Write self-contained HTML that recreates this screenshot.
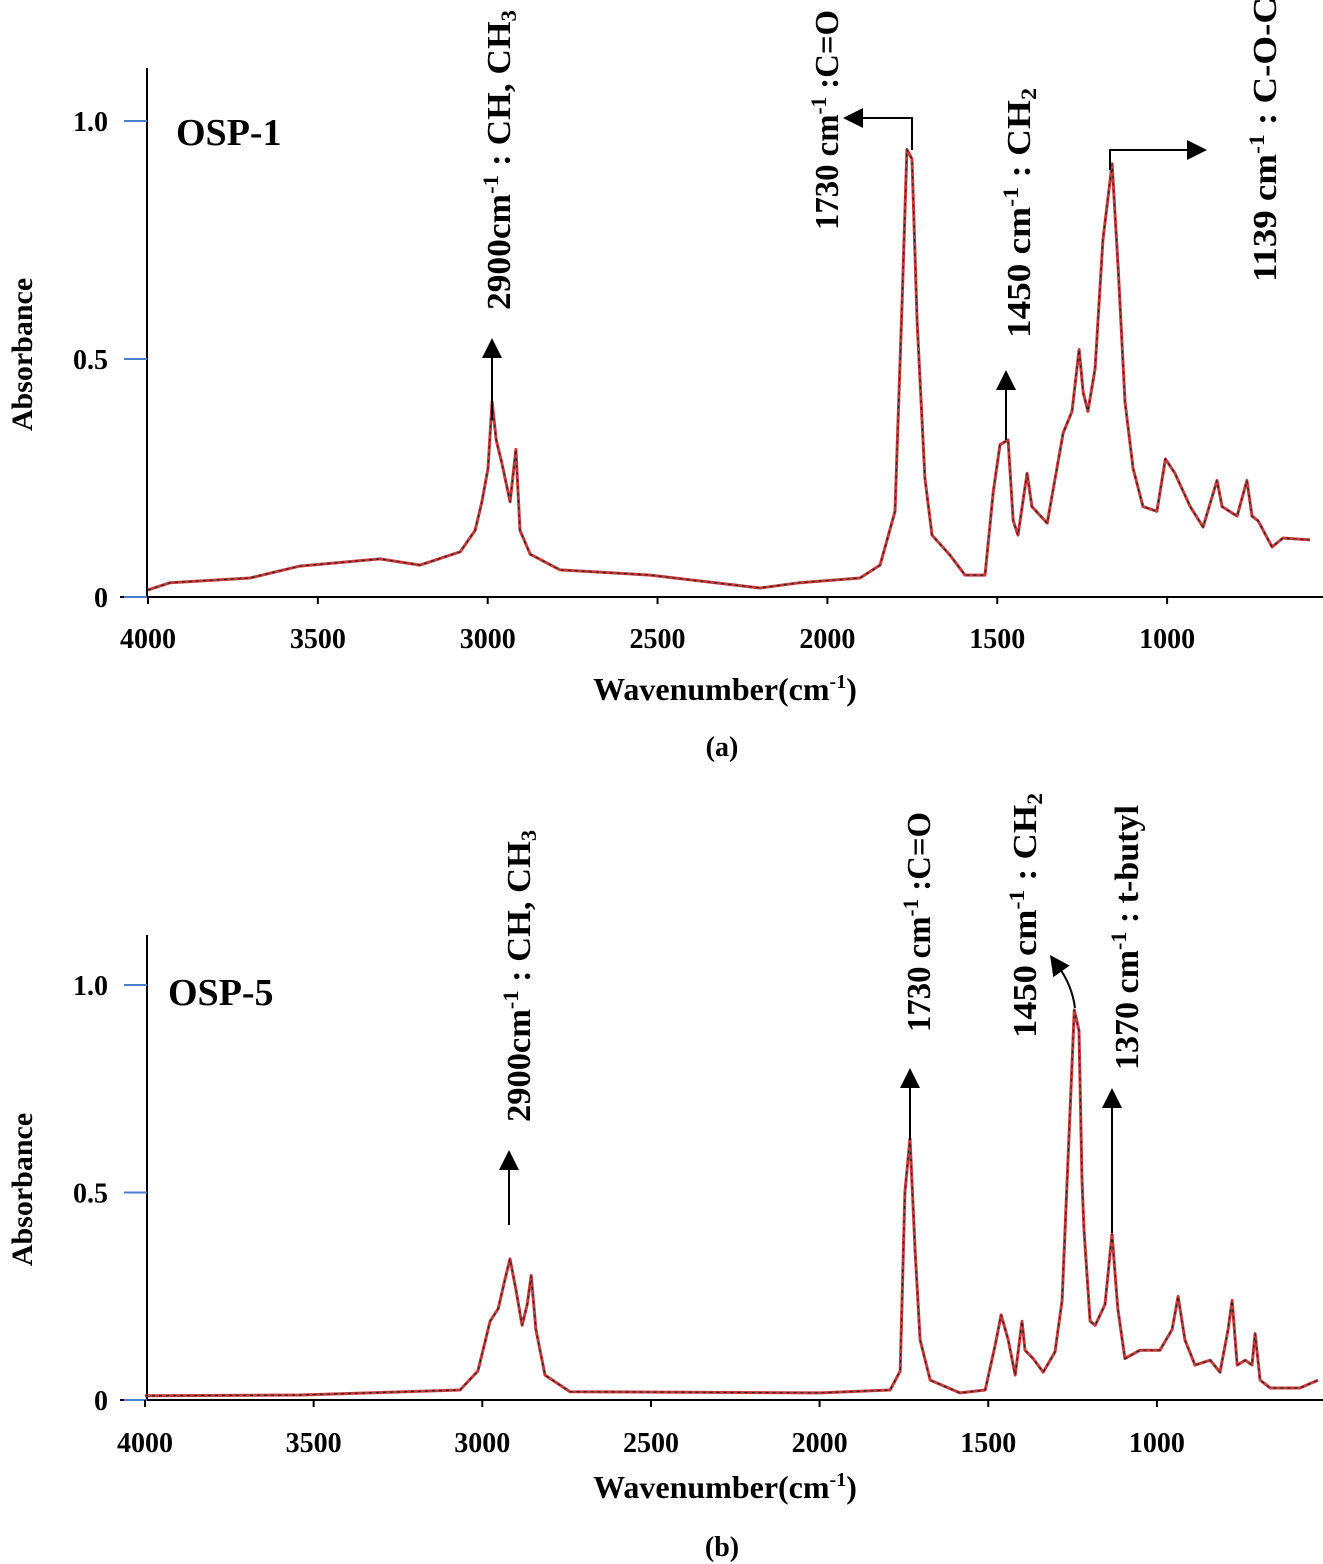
<!DOCTYPE html>
<html><head><meta charset="utf-8"><style>
html,body{margin:0;padding:0;background:#fff}
svg{display:block;font-family:"Liberation Serif",serif}
</style></head><body>
<svg id="chart" width="1323" height="1564" viewBox="0 0 1323 1564"></svg>
<script>
const wnA=[4000,3935,3700,3553,3317,3199,3081,3037,3017,2999,2987,2975,2958,2934,2917,2905,2875,2787,2522,2198,2081,1904,1845,1801,1780,1766,1751,1736,1713,1692,1639,1595,1536,1512,1492,1468,1453,1439,1412,1398,1353,1306,1280,1259,1247,1233,1212,1189,1162,1144,1124,1100,1071,1030,1005,977,932,894,853,838,794,765,750,732,691,659,580];
const absA=[0.015,0.03,0.04,0.065,0.08,0.067,0.095,0.14,0.20,0.27,0.41,0.33,0.28,0.20,0.31,0.14,0.09,0.057,0.046,0.019,0.03,0.04,0.067,0.18,0.62,0.94,0.92,0.58,0.25,0.13,0.088,0.046,0.046,0.22,0.32,0.33,0.16,0.13,0.26,0.19,0.155,0.345,0.39,0.52,0.43,0.39,0.48,0.75,0.91,0.69,0.41,0.27,0.19,0.18,0.29,0.26,0.19,0.147,0.245,0.19,0.17,0.245,0.17,0.16,0.105,0.124,0.12];
const wnB=[4000,3540,3066,3013,2977,2953,2933,2918,2900,2882,2867,2855,2841,2814,2740,1999,1791,1761,1747,1732,1717,1702,1672,1584,1509,1480,1462,1441,1420,1400,1391,1367,1337,1302,1281,1263,1245,1231,1222,1216,1198,1183,1154,1133,1116,1095,1050,991,955,937,917,887,842,813,789,777,762,738,718,709,694,664,576,522];
const absB=[0.01,0.012,0.024,0.07,0.19,0.22,0.29,0.34,0.265,0.18,0.23,0.30,0.17,0.06,0.02,0.017,0.024,0.07,0.50,0.63,0.36,0.145,0.048,0.017,0.024,0.13,0.205,0.145,0.06,0.19,0.12,0.10,0.067,0.116,0.24,0.59,0.94,0.89,0.53,0.41,0.19,0.18,0.23,0.40,0.22,0.10,0.12,0.12,0.17,0.25,0.145,0.084,0.096,0.067,0.17,0.24,0.084,0.096,0.084,0.16,0.048,0.029,0.029,0.048];
const xTicks=[4000,3500,3000,2500,2000,1500,1000];
const yTicks=[0,0.5,1.0];
const yTickLabels=["0","0.5","1.0"];

const NS="http://www.w3.org/2000/svg";
const svg=document.getElementById('chart');
function mk(tag,attrs,parent,text){const e=document.createElementNS(NS,tag);for(const k in attrs)e.setAttribute(k,attrs[k]);if(text!==undefined)e.textContent=text;(parent||svg).appendChild(e);return e;}

const panels=[
 {id:'a',wn:wnA,ab:absA,x0:148,k:0.3397,y0:597,ky:476,axTop:68,axRight:1323,name:'OSP-1',nameX:176,nameY:145,xlblY:648,titleY:700,capY:756,capText:'(a)'},
 {id:'b',wn:wnB,ab:absB,x0:145,k:0.3373,y0:1400,ky:415,axTop:935,axRight:1323,name:'OSP-5',nameX:168,nameY:1005,xlblY:1452,titleY:1498,capY:1556,capText:'(b)'}
];
panels.forEach(p=>{
  p.sx=w=>p.x0+(4000-w)*p.k;
  p.sy=a=>p.y0-a*p.ky;
  const g=mk('g',{});
  
  
  const ya=mk('line',{x1:147,y1:p.axTop,x2:147,y2:p.y0,stroke:'#000','stroke-width':2},g);
  
  const xa=mk('line',{x1:120,y1:p.y0,x2:p.axRight,y2:p.y0,stroke:'#000','stroke-width':2},g);
  
  yTicks.forEach((t,i)=>{
    const y=p.sy(t);
    const tk=mk('line',{x1:124,y1:y,x2:147,y2:y,stroke:'#4a7fd0','stroke-width':2},g);
    
    const tl=mk('text',{x:108,y:y+10,'text-anchor':'end','font-size':28,'font-weight':'bold'},g,yTickLabels[i]);
    
  });
  xTicks.forEach(t=>{
    const x=p.sx(t);
    const tk=mk('line',{x1:x,y1:p.y0,x2:x,y2:p.y0+7,stroke:'#000','stroke-width':2},g);
    
    const tl=mk('text',{x:x,y:p.xlblY,'text-anchor':'middle','font-size':28,'font-weight':'bold'},g,String(t));
    
  });
  const pts=p.wn.map((w,i)=>p.sx(w).toFixed(1)+','+p.sy(p.ab[i]).toFixed(1)).join(' ');
  const l1=mk('polyline',{points:pts,fill:'none',stroke:'#c83a3a','stroke-width':3,'stroke-linejoin':'round'},g);
  
  const l2=mk('polyline',{points:pts,fill:'none',stroke:'#222','stroke-width':1.2,'stroke-dasharray':'3 4'},g);
  
  const nm=mk('text',{x:p.nameX,y:p.nameY,'font-size':38,'font-weight':'bold'},g,p.name);
  
  const yt=mk('text',{x:0,y:0,transform:'translate(32,'+((p.axTop+p.y0)/2+22)+') rotate(-90)','text-anchor':'middle','font-size':30,'font-weight':'bold'},g,'Absorbance');
  
  const xt=mk('text',{x:725,y:p.titleY,'text-anchor':'middle','font-size':32,'font-weight':'bold'},g);
  xt.innerHTML='Wavenumber(cm<tspan dy="-12" font-size="20">-1</tspan><tspan dy="12">)</tspan>';
  
  const cp=mk('text',{x:722,y:p.capY,'text-anchor':'middle','font-size':28,'font-weight':'bold'},g,p.capText);
  
});

function vlabel(x,yb,len,html,name){
  const t=mk('text',{transform:'translate('+x+','+yb+') rotate(-90)','font-size':34,'font-weight':'bold',textLength:len,lengthAdjust:'spacingAndGlyphs'});
  t.innerHTML=html;
  
  
}
const sup='<tspan dy="-12" font-size="22">-1</tspan><tspan dy="12">';
vlabel(510,310,300,'2900cm'+sup+' : CH, CH</tspan><tspan dy="6" font-size="22">3</tspan>','peak-label-2900-a');
vlabel(838,230,220,'1730 cm'+sup+' :C=O</tspan>','peak-label-1730-a');
vlabel(1030,338,250,'1450 cm'+sup+' : CH</tspan><tspan dy="6" font-size="22">2</tspan>','peak-label-1450-a');
vlabel(1276,282,285,'1139 cm'+sup+' : C-O-C</tspan>','peak-label-1139-a');
vlabel(530,1122,292,'2900cm'+sup+' : CH, CH</tspan><tspan dy="6" font-size="22">3</tspan>','peak-label-2900-b');
vlabel(930,1032,220,'1730 cm'+sup+' :C=O</tspan>','peak-label-1730-b');
vlabel(1036,1038,245,'1450 cm'+sup+' : CH</tspan><tspan dy="6" font-size="22">2</tspan>','peak-label-1450-b');
vlabel(1138,1070,265,'1370 cm'+sup+' : t-butyl</tspan>','peak-label-1370-b');

function arrow(d,hx,hy,ang,name){
  const g=mk('g',{});
  
  mk('path',{d:d,fill:'none',stroke:'#000','stroke-width':2},g);
  mk('polygon',{points:'0,0 -20,-10 -20,10',fill:'#000',transform:'translate('+hx+','+hy+') rotate('+ang+')'},g);
}
arrow('M492 420 L492 352',492,338,-90,'arrow-2900-a');
arrow('M912 150 L912 118 L860 118',843,118,180,'arrow-1730-a');
arrow('M1006 440 L1006 386',1006,370,-90,'arrow-1450-a');
arrow('M1110 170 L1110 150 L1188 150',1207,150,0,'arrow-1139-a');
arrow('M509 1225 L509 1166',509,1150,-90,'arrow-2900-b');
arrow('M910 1140 L910 1084',910,1068,-90,'arrow-1730-b');
arrow('M1075 1008 Q1072 985 1058 966',1050,955,-125,'arrow-1450-b');
arrow('M1112 1233 L1112 1104',1112,1088,-90,'arrow-1370-b');
</script>
</body></html>
